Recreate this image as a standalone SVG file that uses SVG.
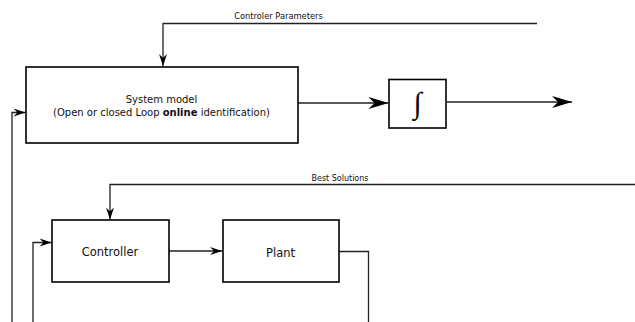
<svg xmlns="http://www.w3.org/2000/svg" width="635" height="322" viewBox="0 0 635 322">
  <style>
    .box { fill: #ffffff; stroke: #000000; stroke-width: 1.6; }
    .wire { fill: none; stroke: #222222; stroke-width: 1.3; }
    .lbl { font-family: "DejaVu Sans", "Liberation Sans", sans-serif; fill: #111111; }
  </style>
  <defs>
    <marker id="big" markerUnits="userSpaceOnUse" markerWidth="22" markerHeight="14" viewBox="-21 -7 22 14" refX="0" refY="0" orient="auto">
      <path d="M0,0 L-20,-6 L-14,0 L-20,6 Z" fill="#000000"/>
    </marker>
    <marker id="small" markerUnits="userSpaceOnUse" markerWidth="14" markerHeight="10" viewBox="-13 -5 14 10" refX="0" refY="0" orient="auto">
      <path d="M0,0 L-12,-4 L-8,0 L-12,4 Z" fill="#000000"/>
    </marker>
  </defs>

  <g id="connectors">
    <!-- controller parameters fed into the system model -->
    <polyline class="wire" points="537,23.5 163,23.5 163,66" marker-end="url(#small)"/>
    <!-- feedback into system model -->
    <polyline class="wire" points="12,322 12,112.5 25.5,112.5" marker-end="url(#small)"/>
    <!-- system model to integrator -->
    <line class="wire" x1="298" y1="103" x2="388.5" y2="103" marker-end="url(#big)"/>
    <!-- integrator output -->
    <line class="wire" x1="447" y1="102" x2="572" y2="102" marker-end="url(#big)"/>
    <!-- best solutions fed into controller -->
    <polyline class="wire" points="635,184.5 110,184.5 110,219.5" marker-end="url(#small)"/>
    <!-- input to controller -->
    <polyline class="wire" points="33,322 33,242.5 51.5,242.5" marker-end="url(#small)"/>
    <!-- controller to plant -->
    <line class="wire" x1="169" y1="251" x2="222" y2="251" marker-end="url(#small)"/>
    <!-- plant output -->
    <polyline class="wire" points="339,251.5 368.5,251.5 368.5,322"/>
    <text class="lbl" x="278.5" y="18.5" font-size="8.3" text-anchor="middle">Controler Parameters</text>
    <text class="lbl" x="340" y="181" font-size="8" text-anchor="middle">Best Solutions</text>
  </g>

  <g id="system-model">
    <rect class="box" x="26" y="67" width="272" height="76"/>
    <text class="lbl" x="161.5" y="103" font-size="10" text-anchor="middle">System model</text>
    <text class="lbl" x="161.5" y="116" font-size="10" text-anchor="middle">(Open or closed Loop <tspan font-weight="bold">online</tspan> identification)</text>
  </g>

  <g id="integrator">
    <rect class="box" x="389" y="79.5" width="57" height="48.5"/>
    <text x="417.5" y="113" font-family="Liberation Serif, DejaVu Serif, serif" font-size="30" font-style="italic" text-anchor="middle" fill="#000000">∫</text>
  </g>

  <g id="controller">
    <rect class="box" x="52" y="220" width="117" height="62"/>
    <text class="lbl" x="110" y="256" font-size="11.5" text-anchor="middle">Controller</text>
  </g>

  <g id="plant">
    <rect class="box" x="223" y="220" width="116" height="62"/>
    <text class="lbl" x="280.5" y="256.5" font-size="11.5" text-anchor="middle">Plant</text>
  </g>
</svg>
